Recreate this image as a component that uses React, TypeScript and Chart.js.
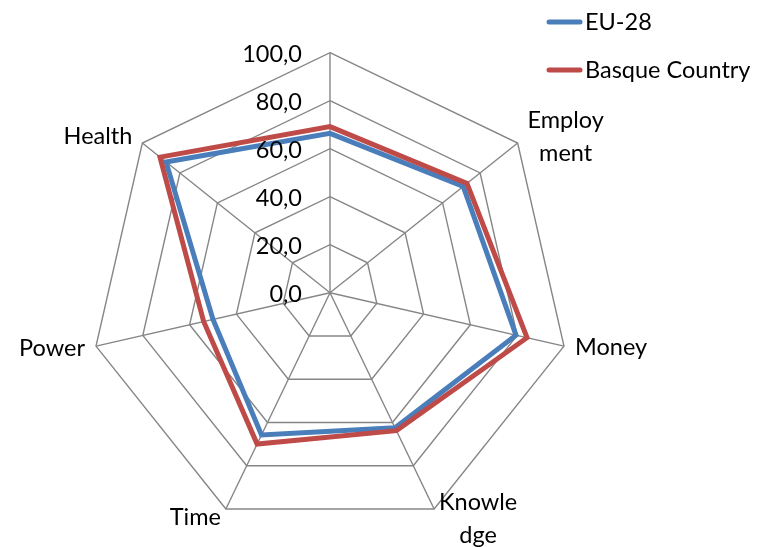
import React, { useEffect, useRef } from 'react';
import { Chart, registerables } from 'chart.js';

Chart.register(...registerables);

// ---- data ----
const categories = ['', 'Employment', 'Money', 'Knowledge', 'Time', 'Power', 'Health'];
const labelLines: string[][] = [[], ['Employ', 'ment'], ['Money'], ['Knowle', 'dge'], ['Time'], ['Power'], ['Health']];
const eu28 = [66.4, 71.0, 79.5, 62.5, 65.8, 50.0, 87.4];
const basque = [69.2, 73.0, 84.2, 63.8, 70.0, 54.0, 90.6];
const seriesNames = ['EU-28', 'Basque Country'];
const tickMin = 0;
const tickMax = 100;
const tickStep = 20;

// ---- styles ----
const BLUE = '#4a7ebb';
const RED = '#be4b48';
const GRID = '#868686';
const FONT = '23.5px Lato';

const labelStyle: { align: CanvasTextAlign; dx: number; dy: number }[] = [
  { align: 'center', dx: 0, dy: 0 },
  { align: 'center', dx: 48, dy: -15 },
  { align: 'left', dx: 11, dy: 9 },
  { align: 'center', dx: 44, dy: 1 },
  { align: 'right', dx: -5, dy: 16 },
  { align: 'right', dx: -11, dy: 10 },
  { align: 'right', dx: -10, dy: 1 },
];

const fmt = (v: number) => v.toFixed(1).replace('.', ',');

const overlay = {
  id: 'overlay',
  afterDraw(chart: any) {
    const ctx: CanvasRenderingContext2D = chart.ctx;
    const r = chart.scales.r;
    ctx.save();
    ctx.fillStyle = '#000';
    ctx.font = FONT;
    ctx.textBaseline = 'alphabetic';
    // tick labels
    ctx.textAlign = 'right';
    r.ticks.forEach((t: any) => {
      const d = r.getDistanceFromCenterForValue(t.value);
      ctx.fillText(fmt(t.value), r.xCenter - 28, r.yCenter - d + 9);
    });
    // point labels
    labelLines.forEach((lines, i) => {
      const p = r.getPointPosition(i, r.drawingArea);
      const s = labelStyle[i];
      ctx.textAlign = s.align;
      lines.forEach((ln, k) => ctx.fillText(ln, p.x + s.dx, p.y + s.dy + k * 33));
    });
    // legend
    const colors = [BLUE, RED];
    const ys = [22, 70];
    seriesNames.forEach((name, i) => {
      ctx.strokeStyle = colors[i];
      ctx.lineWidth = 5;
      ctx.lineCap = 'round';
      ctx.beginPath();
      ctx.moveTo(549, ys[i]);
      ctx.lineTo(580, ys[i]);
      ctx.stroke();
      ctx.textAlign = 'left';
      ctx.fillText(name, 585, ys[i] + 8);
    });
    ctx.restore();
  },
};

export default function App() {
  const ref = useRef<HTMLCanvasElement>(null);
  useEffect(() => {
    if (!ref.current) return;
    const chart = new Chart(ref.current, {
      type: 'radar',
      data: {
        labels: categories,
        datasets: [
          {
            label: seriesNames[0],
            data: eu28,
            borderColor: BLUE,
            backgroundColor: 'transparent',
            borderWidth: 5,
            pointRadius: 0,
            fill: false,
            order: 1,
            clip: false as any,
          },
          {
            label: seriesNames[1],
            data: basque,
            borderColor: RED,
            backgroundColor: 'transparent',
            borderWidth: 5,
            pointRadius: 0,
            fill: false,
            order: 0,
            clip: false as any,
          },
        ],
      },
      options: {
        responsive: false,
        animation: false,
        devicePixelRatio: 1,
        layout: { padding: 0 },
        plugins: { legend: { display: false }, tooltip: { enabled: false } },
        scales: {
          r: {
            min: tickMin,
            max: tickMax,
            ticks: { stepSize: tickStep, display: false },
            grid: { color: GRID, lineWidth: 1.4 },
            angleLines: { color: GRID, lineWidth: 1.4 },
            pointLabels: { display: false },
            afterFit: (s: any) => {
              s.xCenter = 330;
              s.yCenter = 292.7;
              s.drawingArea = 240;
            },
          } as any,
        },
      },
      plugins: [overlay],
    });
    return () => chart.destroy();
  }, []);
  return (
    <div style={{ position: 'absolute', left: 0, top: 0, width: 759, height: 547, background: '#fff' }}>
      <canvas ref={ref} width={759} height={547} />
    </div>
  );
}
